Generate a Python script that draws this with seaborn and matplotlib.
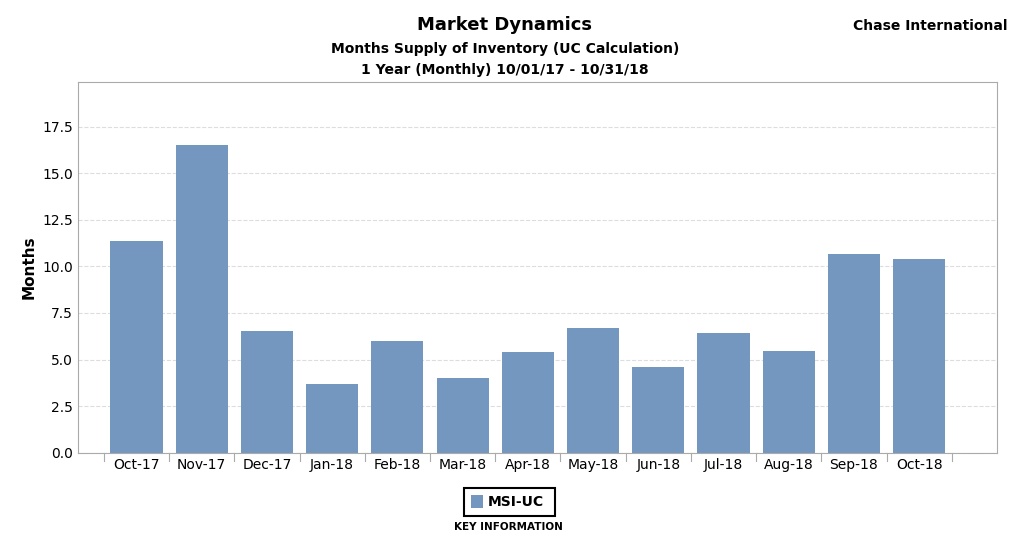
import matplotlib.pyplot as plt
import seaborn as sns
import pandas as pd
from matplotlib.patches import Rectangle

months = ["Oct-17", "Nov-17", "Dec-17", "Jan-18", "Feb-18", "Mar-18", "Apr-18",
          "May-18", "Jun-18", "Jul-18", "Aug-18", "Sep-18", "Oct-18"]
msi_uc = [11.38, 16.53, 6.55, 3.70, 6.01, 4.03, 5.42, 6.71, 4.62, 6.44, 5.47, 10.68, 10.41]
yticks = [0.0, 2.5, 5.0, 7.5, 10.0, 12.5, 15.0, 17.5]

df = pd.DataFrame({"Month": months, "Months": msi_uc})
color = "#7397bf"

fig = plt.figure(figsize=(10.24, 5.39), dpi=100)
ax = fig.add_axes([0.076, 0.16, 0.898, 0.688])
sns.barplot(data=df, x="Month", y="Months", color=color, saturation=1, width=0.8, ax=ax)

ax.set_ylim(0, 19.9)
ax.set_xlim(-0.9, 13.2)
ax.set_yticks(yticks)
ax.set_yticklabels([f"{v:.1f}" for v in yticks], fontsize=10)
ax.set_xlabel("")
ax.set_ylabel("Months", fontsize=11, fontweight="bold")
ax.yaxis.grid(True, linestyle="--", color="#dddddd", linewidth=0.8)
ax.set_axisbelow(True)
for s in ax.spines.values():
    s.set_color("#aaaaaa")
ax.tick_params(axis="x", length=0, labelsize=10)
ax.tick_params(axis="y", length=0)
# separators between categories
for i in range(len(months) + 1):
    ax.plot([i - 0.5, i - 0.5], [0, -0.45], color="#aaaaaa", lw=0.8, clip_on=False)

fig.text(0.493, 0.945, "Market Dynamics", ha="center", fontsize=13, fontweight="bold")
fig.text(0.493, 0.902, "Months Supply of Inventory (UC Calculation)", ha="center", fontsize=10, fontweight="bold")
fig.text(0.493, 0.862, "1 Year (Monthly) 10/01/17 - 10/31/18", ha="center", fontsize=10, fontweight="bold")
fig.text(0.984, 0.945, "Chase International", ha="right", fontsize=10, fontweight="bold")

# legend
fig.patches.append(Rectangle((0.453, 0.042), 0.089, 0.053, transform=fig.transFigure,
                             fill=False, edgecolor="black", lw=1.5))
fig.patches.append(Rectangle((0.460, 0.058), 0.012, 0.023, transform=fig.transFigure,
                             facecolor=color, edgecolor="none"))
fig.text(0.476, 0.068, "MSI-UC", va="center", fontsize=10, fontweight="bold")
fig.text(0.497, 0.017, "KEY INFORMATION", ha="center", fontsize=7.5, fontweight="bold")

fig.savefig("out.png", dpi=100)
